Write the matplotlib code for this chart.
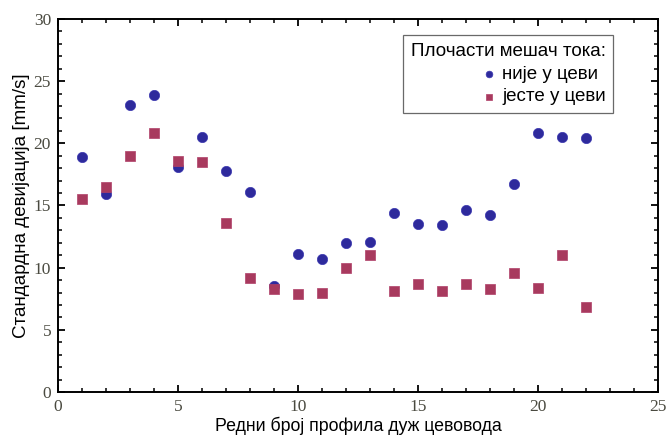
import matplotlib.pyplot as plt
from matplotlib.ticker import MultipleLocator

# standard deviation along the pipeline, with and without the plate mixer
profile = list(range(1, 23))
without_mixer = [18.9, 15.9, 23.1, 23.9, 18.1, 20.5, 17.8, 16.1, 8.5, 11.1, 10.7,
                 12.0, 12.1, 14.4, 13.5, 13.4, 14.6, 14.2, 16.7, 20.8, 20.5, 20.4]
with_mixer = [15.5, 16.5, 19.0, 20.8, 18.6, 18.5, 13.6, 9.2, 8.3, 7.9, 8.0,
              10.0, 11.0, 8.1, 8.7, 8.1, 8.7, 8.3, 9.6, 8.4, 11.0, 6.8]

legend_title = 'Плочасти мешач тока:'
labels = ['није у цеви', 'јесте у цеви']

plt.rcParams['font.family'] = ['Liberation Sans', 'DejaVu Sans']

fig = plt.figure(figsize=(6.67, 4.37), dpi=100)
ax = fig.add_axes([0.087, 0.103, 0.8995, 0.8535])

ax.scatter(profile, without_mixer, marker='o', s=55, color='#2e2a9c',
           edgecolors='#3a36b0', linewidths=0.5, label=labels[0], zorder=3)
ax.scatter(profile, with_mixer, marker='s', s=45, color='#a83a5e',
           edgecolors='#b04068', linewidths=0.5, label=labels[1], zorder=3)

ax.set_xlim(0, 25)
ax.set_ylim(0, 30)
ax.xaxis.set_major_locator(MultipleLocator(5))
ax.xaxis.set_minor_locator(MultipleLocator(1))
ax.yaxis.set_major_locator(MultipleLocator(5))
ax.yaxis.set_minor_locator(MultipleLocator(1))
ax.tick_params(which='both', direction='in', top=True, right=True,
               labeltop=False, labelright=False)
ax.tick_params(which='major', length=5, width=1.3, labelsize=12.5, pad=5)
ax.tick_params(which='minor', length=3, width=1.1)
for lab in ax.get_xticklabels() + ax.get_yticklabels():
    lab.set_family('Liberation Serif')
    lab.set_color('#4a4a40')
for sp in ax.spines.values():
    sp.set_linewidth(1.4)

ax.set_xlabel('Редни број профила дуж цевовода', fontsize=12.8, labelpad=1)
ax.set_ylabel('Стандардна девијација [mm/s]', fontsize=13.5, labelpad=3)

leg = ax.legend(title=legend_title, loc='upper right', bbox_to_anchor=(0.941, 0.981),
                fontsize=13.5, title_fontsize=13.5, frameon=True, fancybox=False,
                edgecolor='#444444', handletextpad=0.3, handlelength=0.8,
                borderpad=0.4, labelspacing=0.3, markerscale=0.65)
leg.get_frame().set_linewidth(0.9)
leg._legend_box.align = 'right'

fig.savefig('out.png', dpi=100)
